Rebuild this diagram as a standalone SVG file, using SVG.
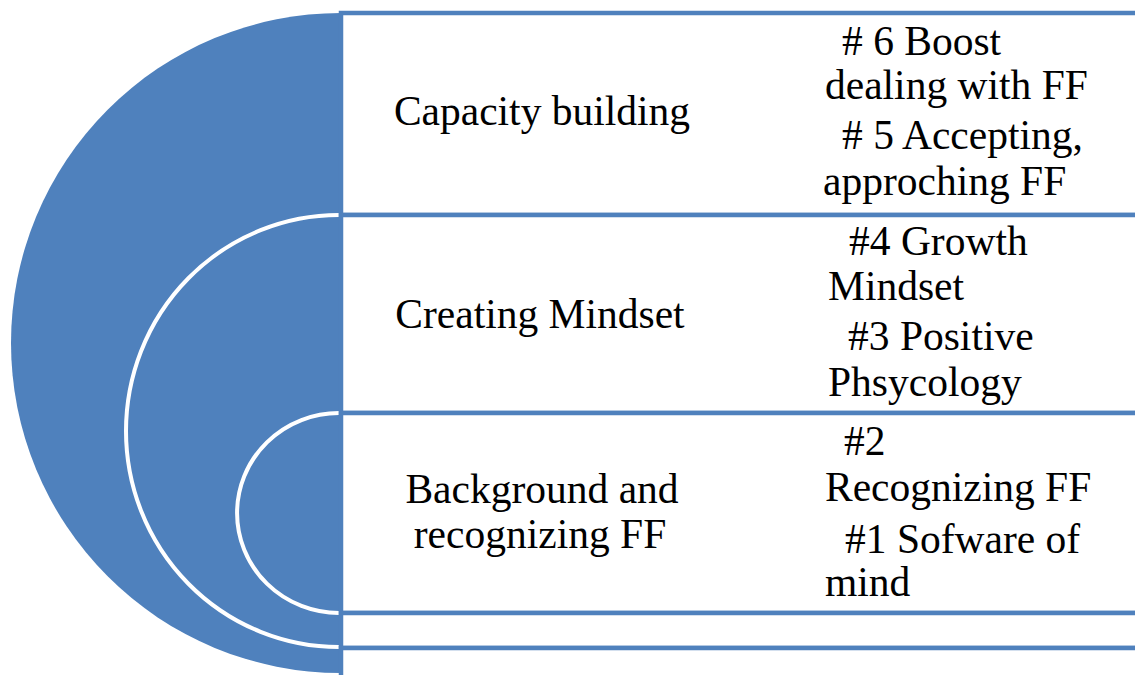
<svg xmlns="http://www.w3.org/2000/svg" width="1135" height="675" viewBox="0 0 1135 675">
<style>
.box{fill:#ffffff;stroke:#4F81BD;stroke-width:4.5}
.band{fill:#4F81BD}
.sep{fill:none;stroke:#ffffff;stroke-width:4}
.lbl{font-family:"Liberation Serif","Times New Roman",serif;font-size:41.5px;fill:#000000}
.mid{text-anchor:middle}
</style>
<rect width="1135" height="675" fill="#ffffff"/>
<g id="arcs">
<path class="band" d="M341,13 A330,330 0 0 0 341,673 Z"/>
<path class="sep" d="M339,215 A213,216 0 0 0 339,647"/>
<path class="sep" d="M339,413 A102,100 0 0 0 339,613"/>
</g>
<g id="connectors"></g>
<g id="level-capacity">
<rect class="box" x="341" y="13" width="820" height="202"/>
<text class="lbl mid" x="542" y="125">Capacity building</text>
<text class="lbl" x="842" y="55"># 6 Boost</text>
<text class="lbl" x="825" y="99">dealing with FF</text>
<text class="lbl" x="842" y="149"># 5 Accepting,</text>
<text class="lbl" x="823" y="195">approching FF</text>
</g>
<g id="level-mindset">
<rect class="box" x="341" y="215" width="820" height="198"/>
<text class="lbl mid" x="540" y="328">Creating Mindset</text>
<text class="lbl" x="849" y="255">#4 Growth</text>
<text class="lbl" x="828" y="300">Mindset</text>
<text class="lbl" x="848" y="350">#3 Positive</text>
<text class="lbl" x="828" y="396">Phsycology</text>
</g>
<g id="level-background">
<rect class="box" x="341" y="413" width="820" height="200"/>
<text class="lbl mid" x="542" y="503">Background and</text>
<text class="lbl mid" x="540" y="548">recognizing FF</text>
<text class="lbl" x="844" y="455">#2</text>
<text class="lbl" x="825" y="501">Recognizing FF</text>
<text class="lbl" x="845" y="553">#1 Sofware of</text>
<text class="lbl" x="825" y="596">mind</text>
</g>
<g id="level-empty">
<rect class="box" x="341" y="613" width="820" height="35"/>
<rect class="box" x="341" y="648" width="820" height="60"/>
</g>
</svg>
